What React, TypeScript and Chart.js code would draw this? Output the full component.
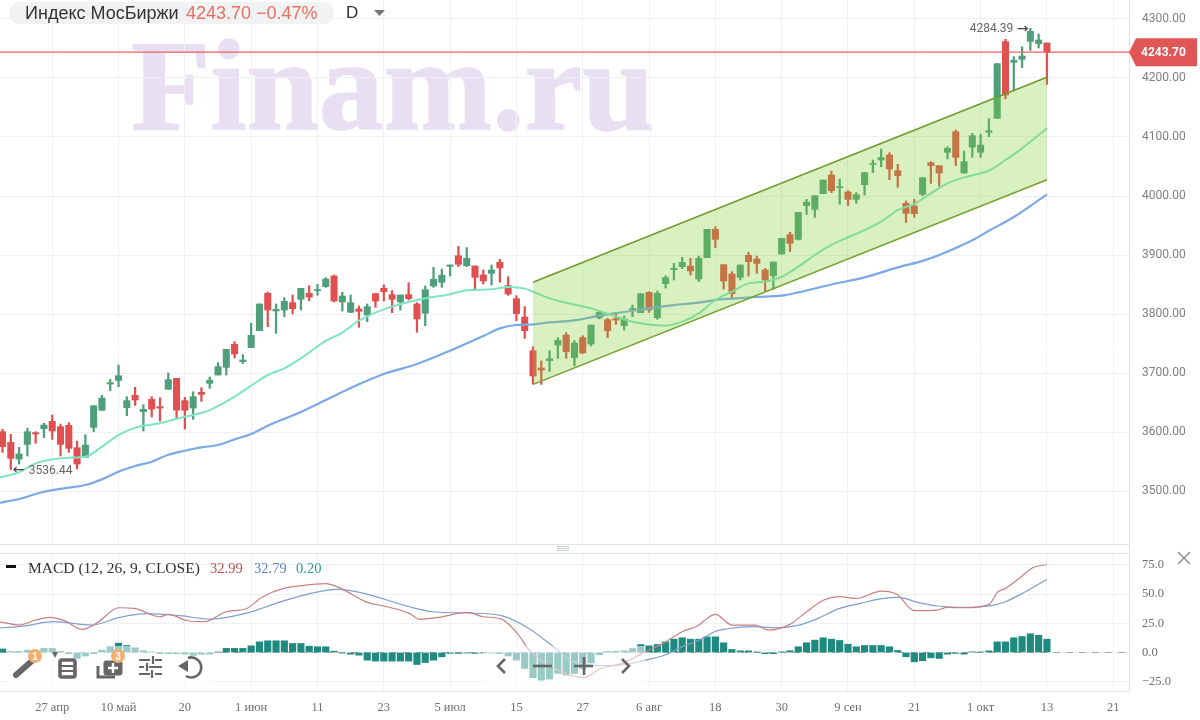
import React, { useEffect, useRef } from "react";
import { Chart, registerables } from "chart.js";

Chart.register(...registerables);

// Daily candles: index 0 is the leftmost candle, index 126 is 13 Oct
const opens = [
  3600.5,3582.4,3554.2,3579.0,3598.8,3605.6,3618.1,3609.0,3611.3,3573.4,
  3557.0,3607.9,3636.7,3681.3,3687.5,3641.2,3662.1,3634.4,3655.3,3642.9,
  3672.3,3690.9,3653.1,3640.6,3667.2,3682.5,3696.6,3709.6,3748.6,3719.2,
  3743.0,3771.8,3835.1,3805.1,3806.8,3819.2,3824.9,3835.1,3839.6,3846.4,
  3864.4,3820.4,3802.8,3808.5,3798.3,3834.5,3843.5,3832.8,3820.4,3832.8,
  3817.0,3801.2,3847.5,3853.7,3880.8,3898.9,3881.9,3881.4,3866.1,3869.0,
  3887.6,3848.0,3826.0,3794.9,3737.8,3708.4,3720.9,3747.4,3764.4,3726.0,
  3759.9,3749.1,3793.7,3790.4,3792.1,3780.2,3807.9,3802.2,3836.7,3793.7,
  3851.4,3875.1,3880.2,3881.3,3859.3,3895.5,3943.5,3883.6,3867.8,3862.1,
  3899.4,3893.2,3874.6,3864.9,3901.7,3934.4,3926.5,3983.6,3977.4,4003.9,
  4035.6,4014.1,4006.8,3994.3,4019.2,4053.6,4061.0,4069.5,4042.9,3987.6,
  3983.0,4002.8,4056.5,4051.4,4074.0,4109.0,4039.0,4083.0,4074.0,4107.9,
  4131.6,4261.6,4226.5,4231.6,4262.1,4258.2,4259.3,
];
const closes = [
  3575.1,3555.3,3562.7,3600.5,3596.6,3611.8,3601.7,3579.0,3572.3,3545.7,
  3577.9,3644.6,3657.6,3683.6,3695.4,3653.1,3654.2,3638.4,3638.9,3640.6,
  3688.7,3637.2,3636.7,3659.9,3663.8,3687.5,3710.7,3740.1,3732.2,3722.0,
  3763.9,3817.0,3806.8,3807.9,3821.5,3809.1,3843.5,3828.8,3841.3,3859.4,
  3822.1,3830.5,3819.2,3804.5,3812.5,3822.1,3837.9,3824.9,3832.2,3826.0,
  3791.6,3841.3,3858.8,3865.6,3883.1,3884.2,3894.4,3862.2,3856.0,3874.6,
  3878.0,3833.9,3800.6,3771.8,3694.9,3705.0,3724.3,3755.3,3736.1,3750.8,
  3733.9,3781.3,3802.8,3771.7,3789.8,3791.5,3809.6,3834.4,3806.8,3835.0,
  3861.6,3877.4,3887.5,3872.9,3894.3,3943.5,3926.5,3855.9,3834.4,3883.0,
  3888.7,3885.9,3857.6,3888.1,3928.2,3919.8,3972.3,3989.8,4000.5,4027.1,
  4009.0,4015.8,3994.3,4002.2,4039.5,4055.3,4065.0,4045.7,4034.4,3970.6,
  3970.0,4031.0,4051.4,4039.0,4080.8,4065.5,4058.2,4102.2,4086.4,4110.7,
  4224.3,4171.2,4229.9,4237.3,4279.1,4264.4,4243.7,
];
const highs = [
  3604.5,3596.0,3574.0,3606.7,3600.5,3614.7,3628.8,3613.5,3615.8,3584.7,
  3595.4,3644.6,3662.1,3689.2,3713.5,3659.9,3675.7,3646.3,3659.9,3658.2,
  3700.0,3690.9,3658.7,3668.3,3675.1,3693.2,3717.5,3740.1,3753.1,3731.0,
  3784.2,3817.0,3837.3,3817.0,3827.7,3832.2,3843.5,3848.0,3850.3,3861.6,
  3866.1,3836.7,3832.2,3813.6,3817.0,3835.1,3849.2,3839.6,3832.2,3853.1,
  3819.2,3847.5,3879.1,3876.3,3883.1,3914.7,3912.5,3881.4,3874.6,3883.1,
  3892.7,3863.3,3831.1,3812.5,3744.6,3720.3,3737.8,3759.9,3768.3,3754.8,
  3763.2,3781.3,3805.6,3792.6,3801.1,3796.6,3815.2,3834.4,3837.8,3839.0,
  3865.0,3885.9,3896.0,3894.3,3898.3,3943.5,3948.0,3883.6,3871.7,3883.0,
  3904.5,3898.3,3877.4,3888.1,3928.2,3938.4,3972.3,3994.3,4000.5,4027.1,
  4042.3,4028.8,4009.0,4005.6,4040.1,4061.0,4079.6,4073.4,4053.6,3991.5,
  3994.3,4031.6,4058.2,4051.4,4083.6,4111.9,4076.3,4106.2,4104.5,4131.1,
  4224.3,4265.5,4236.2,4253.1,4284.39,4274.6,4259.3,
];
const lows = [
  3565.5,3536.44,3545.7,3559.3,3580.8,3590.4,3587.5,3559.3,3565.5,3537.2,
  3557.0,3600.5,3636.7,3670.0,3676.8,3627.6,3645.2,3601.7,3625.4,3618.6,
  3672.3,3621.4,3605.0,3621.4,3651.9,3674.0,3696.6,3696.6,3725.4,3715.8,
  3743.0,3771.8,3778.5,3767.3,3795.5,3800.0,3806.8,3822.6,3831.7,3845.2,
  3820.4,3805.1,3802.3,3777.4,3787.0,3811.3,3822.1,3802.3,3806.8,3823.8,
  3769.0,3780.2,3845.2,3845.2,3864.4,3880.3,3880.3,3841.8,3850.9,3849.2,
  3853.7,3831.7,3788.7,3758.8,3681.3,3680.8,3702.2,3724.8,3724.8,3711.8,
  3733.3,3745.7,3791.5,3759.9,3782.4,3772.9,3795.5,3802.2,3802.8,3790.9,
  3844.0,3857.6,3876.8,3866.1,3854.8,3895.5,3912.4,3842.3,3825.4,3857.6,
  3864.4,3868.9,3838.9,3842.3,3901.7,3905.6,3925.4,3968.9,3963.8,4003.9,
  4005.6,3985.9,3983.6,3987.6,4001.7,4039.5,4049.7,4027.7,4014.7,3955.3,
  3963.8,4000.5,4021.4,4016.9,4062.7,4051.4,4039.0,4065.5,4065.5,4100.5,
  4131.6,4164.4,4179.6,4217.5,4246.9,4250.8,4189.2,
];

// Moving averages, read at the candle indices listed alongside them
const fastIdx = [-1,0,2,4,6,8,10,12,14,16,19,21,25,28,30,32,34,36,39,41,43,46,50,54,56,59,61,63,64,66,68,71,74,76,79,80,82,84,86,88,90,92,94,96,98,100,102,104,106,108,110,112,114,116,118,119,121,123,126];
const fastVals = [3521.0,3524.2,3531.6,3546.8,3553.6,3556.5,3558.2,3575.1,3594.9,3607.3,3614.7,3622.6,3637.2,3659.9,3678.5,3696.6,3707.9,3724.9,3754.3,3768.4,3788.7,3807.9,3823.8,3833.4,3840.1,3841.8,3845.8,3843.0,3837.8,3826.5,3819.2,3809.6,3795.5,3787.0,3780.8,3780.2,3787.0,3801.1,3823.7,3837.8,3851.9,3854.8,3863.2,3880.2,3900.0,3917.0,3929.9,3942.3,3956.5,3976.2,3986.4,4004.5,4021.4,4031.6,4038.4,4042.9,4061.0,4080.8,4114.7];
const slowIdx = [-1,0,2,5,8,10,12,14,16,18,20,22,24,26,28,30,32,36,39,42,46,50,54,58,60,62,64,66,69,72,75,78,81,84,86,88,91,94,96,100,104,108,111,113,117,119,122,126];
const slowVals = [3478.5,3480.8,3486.4,3498.8,3505.6,3510.1,3519.7,3532.7,3542.3,3549.7,3561.5,3568.3,3574.0,3577.9,3587.5,3596.6,3610.7,3634.0,3654.2,3674.6,3698.3,3715.3,3737.9,3762.7,3775.7,3781.4,3782.5,3785.8,3789.2,3797.2,3803.4,3809.6,3815.2,3819.2,3823.7,3826.0,3828.8,3831.0,3836.7,3850.0,3862.0,3879.0,3890.0,3900.0,3925.0,3941.0,3964.4,4002.8];

// Rising channel
const channelIdx = [64, 126];
const channelTop = [3853.7, 4201.2];
const channelBottom = [3680.8, 4027.6];

const lastPrice = 4243.7;
const maxLabel = "4284.39";
const minLabel = "3536.44";
const maxIdx = 124;
const minIdx = 1;

const priceTicks = [3500,3600,3700,3800,3900,4000,4100,4200,4300];
const macdTicks = [-25,0,25,50,75];
const dateTickIdx = [6,14,22,30,38,46,54,62,70,78,86,94,102,110,118,126,134];
const dateTickLabels = ["27 апр","10 май","20","1 июн","11","23","5 июл","15","27","6 авг","18","30","9 сен","21","1 окт","13","21"];

// MACD panel
const macdIdx = [-1,0,2,4,5.7,7.6,9.6,11.5,14,15.9,19,20,22.3,24.4,27,29.3,31.4,33.9,36,39,40.8,44,46,49.1,50.3,52.4,56.1,58,60.2,62.1,63.7,66.2,70.2,72,74.8,77.6,79.7,82,83.9,85,86,88,90.8,92.4,95,97,99.1,101,103,106,107.9,110,112.7,114,116.2,119,120.1,121,122.9,124.3,126];
const macdVals = [26.2,25.8,23.5,27.8,30.1,26.9,19.8,25.8,38.3,37.8,30.6,32.6,27.2,26.4,34.9,37.2,47.8,54.9,57.2,58.9,54.9,42.9,39.8,33.5,28.4,29.8,34.3,30.6,28.6,16.4,0.7,-12.2,-21.6,-14.2,-9.3,0.7,7.8,17.8,22.9,29.2,32.6,23.5,23.5,19.2,24.1,34.9,44.9,47.8,46.3,52.6,49.8,35.8,36.3,38.6,38.3,41.2,52,54.9,64.9,72.6,75.4];
const signalIdx = [-1,0,2.5,6.2,10.8,14,17.3,21.4,25.1,29.7,33,36.7,40.4,43.1,49.1,51.9,56.1,60.2,63.5,66.2,68.5,72,74.8,77.6,79.9,82,84.1,85.9,87.3,90.6,93.3,96.1,98.4,101,103.5,106.3,108.1,110.4,112.7,116,119.2,121,123.4,126];
const signalVals = [21.0,21.2,22.6,26.4,23.5,29.8,33.2,31.5,28.6,34.1,42.1,49.8,54,51.5,39.2,34.9,33.8,31.5,20.6,6.4,-6.5,-11.3,-10.7,-6.5,-2.2,5,10.7,17.8,20.1,22.1,21.2,23.5,29.2,37.8,42.1,46.3,47.2,42.9,39.8,38.6,40.1,43.5,52,62.6];
const histVals = [
  3,1,1,2,2,3.5,3.5,1,-1,-5,-3,-1,2,5,8,6,4,1.5,0.5,-1,
  -1,-1,-1.5,-2.5,-1.5,-1.5,0.3,3.5,3.5,3.5,5.7,9.1,10,10,10,7.7,7.7,5.4,4.9,4.9,
  1.1,-0.5,-1.5,-2.3,-6.6,-7.4,-7.4,-7.4,-7.4,-7.4,-10.3,-8.6,-6.6,-3.7,-0.8,-0.8,-0.5,-0.8,-0.5,-0.5,
  -1,-3,-6.6,-13.7,-21.7,-23.7,-22.8,-18,-19.4,-18,-14,-9,-2,1,1,1.5,3.4,6.8,5.7,6.8,
  9.1,11.4,12.6,11.4,11.4,13.4,13.4,8.3,2.6,1.4,1.4,0.3,-1,-1,0.5,1.5,4.9,8.3,10.6,12.6,
  11.4,10.3,7.1,4.9,6,6,6,4.9,1.7,-3.7,-8,-7.1,-4.6,-5.1,-1.4,-0.8,-1.4,0.5,0.5,1.4,
  9.1,9.1,12.6,13.7,16,14.8,11.4,
];

const UP = "#4f9f7b";
const DOWN = "#e05050";
const SERIF = "'Liberation Serif', serif";
const SANS = "'Liberation Sans', Arial, sans-serif";
const xMin = -0.3;
const xMax = 135.9;

const pairs = (idx: number[], vals: number[]) => idx.map((x, i) => ({ x, y: vals[i] }));
const candleColor = (ctx: any) => (closes[ctx.dataIndex] >= opens[ctx.dataIndex] ? UP : DOWN);

const overlayPlugin = {
  id: "overlay",
  afterDatasetsDraw(chart: any) {
    const { ctx, scales, chartArea } = chart;
    const y = scales.y;
    const x = scales.x;
    ctx.save();
    // gap between the two panels
    ctx.fillStyle = "#ffffff";
    ctx.fillRect(0, 544, chartArea.right, 9);
    ctx.strokeStyle = "#dfe3e6";
    ctx.lineWidth = 1;
    ctx.beginPath();
    ctx.moveTo(0, 544.5); ctx.lineTo(chartArea.right, 544.5);
    ctx.moveTo(0, 553.5); ctx.lineTo(chartArea.right, 553.5);
    ctx.stroke();
    ctx.strokeStyle = "#c9ced2";
    ctx.beginPath();
    for (const h of [546.5, 548.5, 550.5]) { ctx.moveTo(557, h); ctx.lineTo(569, h); }
    ctx.stroke();

    // min and max annotations
    ctx.font = "12px Roboto, sans-serif";
    ctx.fillStyle = "#666";
    ctx.textBaseline = "middle";
    ctx.textAlign = "left";
    ctx.fillText(minLabel, x.getPixelForValue(minIdx) + 18, y.getPixelForValue(lows[minIdx]) + 1);
    ctx.textAlign = "right";
    ctx.fillText(maxLabel, x.getPixelForValue(maxIdx) - 17, y.getPixelForValue(highs[maxIdx]) + 1);
    ctx.font = "14px 'DejaVu Sans', sans-serif";
    ctx.fillStyle = "#444";
    ctx.textAlign = "left";
    ctx.fillText("←", x.getPixelForValue(minIdx) + 2, y.getPixelForValue(lows[minIdx]) + 1);
    ctx.textAlign = "right";
    ctx.fillText("→", x.getPixelForValue(maxIdx) - 2, y.getPixelForValue(highs[maxIdx]) + 1);

    // last price tag
    const py = y.getPixelForValue(lastPrice);
    const l = chartArea.right;
    ctx.fillStyle = "#e05555";
    ctx.beginPath();
    ctx.moveTo(l, py);
    ctx.lineTo(l + 7, py - 14);
    ctx.lineTo(1197, py - 14);
    ctx.lineTo(1197, py + 14);
    ctx.lineTo(l + 7, py + 14);
    ctx.closePath();
    ctx.fill();
    ctx.fillStyle = "#ffffff";
    ctx.font = "bold 12px Roboto, sans-serif";
    ctx.textAlign = "left";
    ctx.fillText(lastPrice.toFixed(2), 1141, py + 1);
    ctx.restore();
  },
};

const abs = (left: number, top: number, extra: React.CSSProperties = {}): React.CSSProperties => ({
  position: "absolute",
  left,
  top,
  whiteSpace: "nowrap",
  ...extra,
});

const fitY = (s: any) => {
  s.width = 71;
  s.paddingTop = 0;
  s.paddingBottom = 0;
};

export default function App() {
  const ref = useRef<HTMLCanvasElement | null>(null);
  useEffect(() => {
    document.body.style.margin = "0";
    const candleIdx = opens.map((_, i) => i);
    const chart = new Chart(ref.current as HTMLCanvasElement, {
      type: "bar",
      data: {
        datasets: [
          { type: "bar", label: "MACD hist", xAxisID: "x", yAxisID: "y2", order: 9, grouped: false, barThickness: 6.5, backgroundColor: "#1f8a80", borderWidth: 0,
            data: candleIdx.map((i) => ({ x: i, y: histVals[i] })) },
          { type: "line", label: "Zero", xAxisID: "x", yAxisID: "y2", order: 10, borderColor: "#a6a6a6", borderWidth: 1, borderDash: [7, 6], pointRadius: 0,
            data: [{ x: xMin, y: 0 }, { x: xMax, y: 0 }] },
          { type: "line", label: "Signal", xAxisID: "x", yAxisID: "y2", order: 8, borderColor: "#7f9fd0", borderWidth: 1.2, pointRadius: 0, cubicInterpolationMode: "monotone",
            data: pairs(signalIdx, signalVals) },
          { type: "line", label: "MACD", xAxisID: "x", yAxisID: "y2", order: 7, borderColor: "#c97f7f", borderWidth: 1.2, pointRadius: 0, cubicInterpolationMode: "monotone",
            data: pairs(macdIdx, macdVals) },
          { type: "bar", label: "Wicks", xAxisID: "x", yAxisID: "y", order: 6, grouped: false, barThickness: 1.6, backgroundColor: candleColor, borderWidth: 0,
            data: candleIdx.map((i) => ({ x: i, y: [lows[i], highs[i]] })) },
          { type: "bar", label: "Bodies", xAxisID: "x", yAxisID: "y", order: 5, grouped: false, barThickness: 6.4, backgroundColor: candleColor, borderWidth: 0,
            data: candleIdx.map((i) => ({ x: i, y: [opens[i], closes[i]] })) },
          { type: "line", label: "MA slow", xAxisID: "x", yAxisID: "y", order: 4, borderColor: "#7aa9e6", borderWidth: 2.2, pointRadius: 0, cubicInterpolationMode: "monotone",
            data: pairs(slowIdx, slowVals) },
          { type: "line", label: "MA fast", xAxisID: "x", yAxisID: "y", order: 3, borderColor: "#7fe3c6", borderWidth: 2, pointRadius: 0, cubicInterpolationMode: "monotone",
            data: pairs(fastIdx, fastVals) },
          { type: "line", label: "Channel top", xAxisID: "x", yAxisID: "y", order: 2, borderColor: "#6f9a2e", borderWidth: 1.5, pointRadius: 0, fill: "+1", backgroundColor: "rgba(128,205,45,0.3)",
            data: pairs(channelIdx, channelTop) },
          { type: "line", label: "Channel bottom", xAxisID: "x", yAxisID: "y", order: 2, borderColor: "#6f9a2e", borderWidth: 1.5, pointRadius: 0, fill: false,
            data: pairs(channelIdx, channelBottom) },
          { type: "line", label: "Last", xAxisID: "x", yAxisID: "y", order: 1, borderColor: "#e8605f", borderWidth: 1.3, pointRadius: 0,
            data: [{ x: xMin, y: lastPrice }, { x: xMax, y: lastPrice }] },
        ] as any,
      },
      options: {
        animation: false,
        responsive: false,
        devicePixelRatio: 1,
        layout: { padding: 0 },
        plugins: {
          legend: { display: false },
          tooltip: { enabled: false },
          filler: { drawTime: "beforeDatasetDraw", propagate: false },
        },
        scales: {
          x: {
            type: "linear",
            position: "bottom",
            offset: false,
            min: xMin,
            max: xMax,
            afterBuildTicks: (s: any) => { s.ticks = dateTickIdx.map((value) => ({ value })); },
            afterFit: (s: any) => { s.height = 29; s.paddingLeft = 0; s.paddingRight = 0; },
            ticks: {
              autoSkip: false,
              maxRotation: 0,
              padding: 9,
              color: "#6e6e6e",
              font: { family: SERIF, size: 12.5 },
              callback: (v: any) => dateTickLabels[dateTickIdx.indexOf(Number(v))] ?? "",
            },
            grid: { color: "#eef1f3", drawTicks: false, offset: false },
            border: { color: "#dfe3e6" },
          },
          y: {
            type: "linear",
            position: "right",
            stack: "panels",
            stackWeight: 548,
            weight: 0,
            min: 3403.4,
            max: 4332.2,
            afterBuildTicks: (s: any) => { s.ticks = priceTicks.map((value) => ({ value })); },
            afterFit: fitY,
            ticks: {
              padding: 13,
              color: "#808080",
              font: { family: "Roboto, sans-serif", size: 12 },
              callback: (v: any) => Number(v).toFixed(2),
            },
            grid: { color: "#eef1f3", drawTicks: false },
            border: { color: "#dfe3e6" },
          },
          y2: {
            type: "linear",
            position: "right",
            stack: "panels",
            stackWeight: 143,
            weight: 1,
            min: -33,
            max: 89.5,
            afterBuildTicks: (s: any) => { s.ticks = macdTicks.map((value) => ({ value })); },
            afterFit: fitY,
            ticks: {
              padding: 13,
              color: "#6e6e6e",
              font: { family: SERIF, size: 12.5 },
              callback: (v: any) => (Number(v) < 0 ? "−" + Math.abs(Number(v)).toFixed(1) : Number(v).toFixed(1)),
            },
            grid: { color: "#eef1f3", drawTicks: false },
            border: { color: "#dfe3e6" },
          },
        },
      } as any,
      plugins: [overlayPlugin],
    });
    return () => chart.destroy();
  }, []);

  return (
    <div style={{ position: "fixed", left: 0, top: 0, width: 1200, height: 720, background: "#fff", overflow: "hidden" }}>
      <div style={abs(131, 20, { font: `bold 130px ${SERIF}`, color: "#e8dff3", lineHeight: "130px", WebkitTextStroke: "1.5px #e8dff3" })}>Finam.ru</div>
      <canvas ref={ref} width={1200} height={720} style={{ position: "absolute", left: 0, top: 0, width: 1200, height: 720 }} />

      <div style={abs(9, 2, { width: 325, height: 22, borderRadius: 11, background: "#f1f2f3" })} />
      <div style={abs(25, 3, { font: `18px ${SANS}`, lineHeight: "20px", color: "#333" })}>Индекс МосБиржи</div>
      <div style={abs(186, 3, { font: `18px ${SANS}`, lineHeight: "20px", color: "#e8705f" })}>4243.70 −0.47%</div>
      <div style={abs(346, 3, { font: `17px ${SANS}`, lineHeight: "20px", color: "#333" })}>D</div>
      <svg style={abs(374, 10)} width="11" height="6"><polygon points="0,0 11,0 5.5,6" fill="#777" /></svg>

      <div style={abs(6, 565, { width: 10, height: 2.5, background: "#111" })} />
      <div style={abs(28, 559, { font: `15.5px ${SERIF}`, lineHeight: "18px", color: "#333" })}>MACD (12, 26, 9, CLOSE)</div>
      <div style={abs(210, 559, { font: `14.5px ${SERIF}`, lineHeight: "18px", color: "#c0504d" })}>32.99</div>
      <div style={abs(254, 559, { font: `14.5px ${SERIF}`, lineHeight: "18px", color: "#5b86c0" })}>32.79</div>
      <div style={abs(296, 559, { font: `14.5px ${SERIF}`, lineHeight: "18px", color: "#2a9d8f" })}>0.20</div>
      <svg style={abs(1177, 551)} width="14" height="14"><path d="M1 1 L13 13 M13 1 L1 13" stroke="#8a8a8a" strokeWidth="1.4" /></svg>

      <div style={abs(7, 646, { width: 208, height: 45, background: "rgba(255,255,255,0.55)" })} />
      <div style={abs(483, 646, { width: 162, height: 45, background: "rgba(255,255,255,0.55)" })} />

      <svg style={abs(0, 640)} width="215" height="50">
        <polygon points="52,12 58,12 55,18" fill="#666" />
        <g fill="none" stroke="#666" strokeWidth="3.4">
          <path d="M16 35 L33 20" strokeWidth="6" strokeLinecap="round" />
          <rect x="60" y="20" width="15" height="17" rx="2" strokeWidth="3.6" />
          <path d="M60 26 H75 M60 31 H75" strokeWidth="2.2" />
          <path d="M98 26 V37 H115" strokeWidth="3" />
          <rect x="104" y="21" width="18" height="14" rx="2" fill="#666" strokeWidth="1" />
          <path d="M113 23 V33 M108 28 H118" stroke="#fff" strokeWidth="2.4" />
          <path d="M139 20 H150 M155 20 H162 M139 27 H144 M149 27 H162 M139 34 H150 M155 34 H162" strokeWidth="2.2" />
          <path d="M153 16 V24 M147 23 V31 M152 30 V38" strokeWidth="2.2" />
          <path d="M188 18 A10 10 0 1 1 186 36" strokeWidth="2.6" />
          <polygon points="178,26 188,20 188,32" fill="#666" stroke="none" />
        </g>
        <circle cx="35" cy="16" r="7" fill="#f2b070" />
        <text x="35" y="20" textAnchor="middle" fontFamily={SANS} fontSize="10" fontWeight="bold" fill="#fff">1</text>
        <circle cx="118" cy="16" r="7" fill="#f2b070" />
        <text x="118" y="20" textAnchor="middle" fontFamily={SANS} fontSize="10" fontWeight="bold" fill="#fff">3</text>
      </svg>

      <svg style={abs(490, 651)} width="150" height="30" fill="none" stroke="#666" strokeWidth="2.6">
        <path d="M15 8 L8 15 L15 22" />
        <path d="M43 15 H62" />
        <path d="M84 15 H103 M94 6 V24" />
        <path d="M132 8 L139 15 L132 22" />
      </svg>
    </div>
  );
}
